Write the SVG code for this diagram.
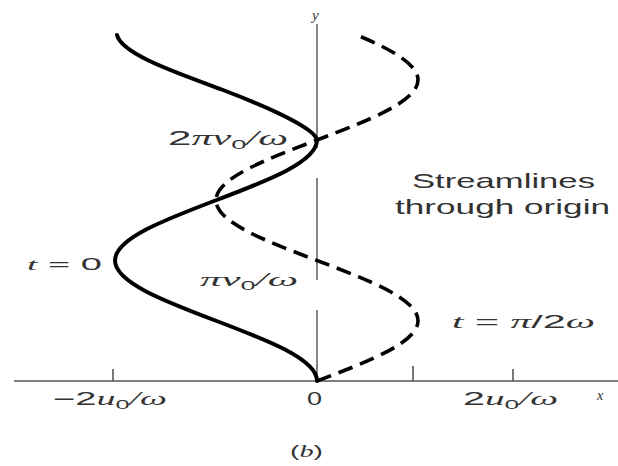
<svg xmlns="http://www.w3.org/2000/svg" width="618" height="466" viewBox="0 0 618 466">
<style>
.ax{stroke:#555;stroke-width:1.6;fill:none}
.yax{stroke:#444;stroke-width:1.3;fill:none}
.solid{stroke:#000;stroke-width:4;fill:none;stroke-linecap:round;stroke-linejoin:round}
.dash{stroke:#000;stroke-width:3.6;fill:none;stroke-dasharray:15 8;stroke-linecap:butt}
text{font-family:"Liberation Sans","DejaVu Sans",sans-serif;fill:#333}
.m{font-family:"Liberation Serif","DejaVu Serif",serif;font-style:italic}
</style>
<rect width="618" height="466" fill="#fff"/>
<g id="axes">
<path class="ax" d="M14,381H618"/>
<path class="ax" d="M113,369V381M413,366V381M513,369V381"/>
<path class="yax" d="M317,24V148M317,178V280M317,310V381"/>
</g>
<g id="curves">
<path id="t0" class="solid" d="M317,381C317,359.19 267.74,340.4 216,320.75C164.26,301.1 115,282.3 115,260.5C115,238.69 164.26,219.9 216,200.25C267.74,180.6 317,161.8 317,140C315,128 265,106 223,90C181,74 122,55 117,35"/>
<path id="tpi2" class="dash" d="M317,381C368.74,361.35 418,342.55 418,320.75C418,298.94 368.74,280.15 317,260.5C265.26,240.85 216,222.05 216,200.25C216,178.44 265.26,159.65 317,140C368.74,120.35 418,101.55 418,79.75C418,64.84 392.9,49.9 356.8,35"/>
</g>
<g id="labels">
<text class="m" x="312" y="20" font-size="15">y</text>
<text x="168" y="145" font-size="20" textLength="120" lengthAdjust="spacingAndGlyphs">2<tspan class="m">πv</tspan><tspan font-size="13" dy="4">0</tspan><tspan class="m" dy="-4">/ω</tspan></text>
<text x="412" y="188" font-size="21" textLength="183" lengthAdjust="spacingAndGlyphs">Streamlines</text>
<text x="395" y="214" font-size="21" textLength="215" lengthAdjust="spacingAndGlyphs">through origin</text>
<text x="27" y="270" font-size="17" textLength="75" lengthAdjust="spacingAndGlyphs"><tspan class="m">t</tspan> = 0</text>
<text x="200" y="286" font-size="19" textLength="98" lengthAdjust="spacingAndGlyphs"><tspan class="m">πv</tspan><tspan font-size="12" dy="4">0</tspan><tspan class="m" dy="-4">/ω</tspan></text>
<text x="452" y="328" font-size="18" textLength="143" lengthAdjust="spacingAndGlyphs"><tspan class="m">t</tspan> = <tspan class="m">π</tspan>/2<tspan class="m">ω</tspan></text>
<text x="53" y="405" font-size="18" textLength="114" lengthAdjust="spacingAndGlyphs">−2<tspan class="m">u</tspan><tspan font-size="12" dy="4">0</tspan><tspan class="m" dy="-4">/ω</tspan></text>
<text x="307" y="405" font-size="18" textLength="15" lengthAdjust="spacingAndGlyphs">0</text>
<text x="463" y="405" font-size="18" textLength="95" lengthAdjust="spacingAndGlyphs">2<tspan class="m">u</tspan><tspan font-size="12" dy="4">0</tspan><tspan class="m" dy="-4">/ω</tspan></text>
<text class="m" x="597" y="400" font-size="14">x</text>
<text x="290" y="457" font-size="17" textLength="33" lengthAdjust="spacingAndGlyphs">(<tspan class="m">b</tspan>)</text>
</g>
</svg>
